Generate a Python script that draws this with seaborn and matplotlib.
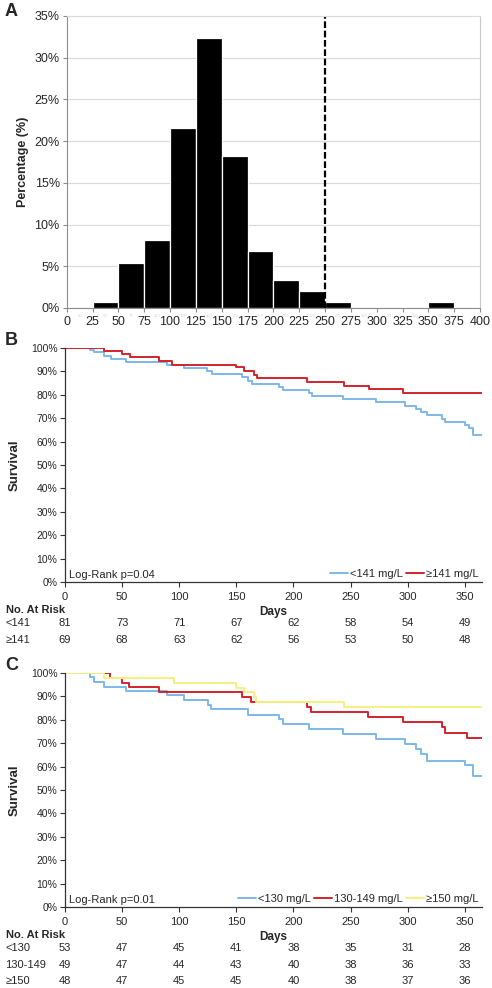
import numpy as np
import pandas as pd
import matplotlib
matplotlib.use("Agg")
import matplotlib.pyplot as plt
from matplotlib.ticker import PercentFormatter
import seaborn as sns

sns.set_style("white")
plt.rcParams['font.family'] = ['Liberation Sans', 'DejaVu Sans']
plt.rcParams['font.size'] = 8

# panel A: distribution (% of patients per 25 mg/L bin)
bin_lower = [25, 50, 75, 100, 125, 150, 175, 200, 225, 250, 350]
bin_pct = [0.7, 5.4, 8.1, 21.6, 32.4, 18.2, 6.8, 3.4, 2.0, 0.7, 0.7]
cutoff = 250

# panel B: two groups
b_lo_t = [0, 22, 25, 34, 40, 53, 89, 104, 124, 129, 155, 160, 164, 187, 191, 214, 216,
          243, 272, 298, 307, 312, 317, 330, 333, 350, 354, 357, 365]
b_lo_s = [100, 99.1, 98.2, 96.7, 95.3, 93.9, 92.7, 91.3, 90.2, 88.8, 87.5, 86.0, 84.7, 83.5,
          82.1, 80.9, 79.5, 78.1, 76.8, 75.4, 73.9, 72.5, 71.2, 69.8, 68.5, 67.1, 65.7, 62.8, 62.8]
b_hi_t = [0, 34, 50, 57, 82, 94, 150, 157, 165, 168, 212, 244, 266, 296, 365]
b_hi_s = [100, 98.9, 97.4, 96.0, 94.6, 92.9, 91.7, 90.2, 88.5, 87.0, 85.3, 83.9, 82.3, 80.9, 80.9]
b_groups = ['<141 mg/L', '≥141 mg/L']
b_risk_rows = ['<141', '≥141']
b_risk = [[81, 73, 71, 67, 62, 58, 54, 49],
          [69, 68, 63, 62, 56, 53, 50, 48]]

# panel C: three groups
c_lo_t = [0, 22, 25, 34, 53, 89, 104, 125, 128, 160, 187, 191, 214, 243, 272, 298, 307,
          312, 317, 350, 357, 365]
c_lo_s = [100, 98.1, 96.3, 94.2, 92.4, 90.6, 88.5, 86.3, 84.5, 82.1, 80.2, 78.1, 75.9, 73.8,
          71.7, 69.5, 67.4, 65.3, 62.6, 60.5, 56.0, 56.0]
c_mid_t = [0, 39, 50, 56, 82, 155, 163, 212, 215, 265, 296, 330, 333, 352, 365]
c_mid_s = [100, 98.0, 95.9, 93.9, 91.7, 89.7, 87.6, 85.6, 83.3, 81.1, 78.9, 76.8, 74.5, 72.4, 72.4]
c_hi_t = [0, 34, 95, 150, 157, 165, 167, 244, 365]
c_hi_s = [100, 97.9, 95.8, 93.75, 91.7, 89.6, 87.5, 85.4, 85.4]
c_groups = ['<130 mg/L', '130-149 mg/L', '≥150 mg/L']
c_risk_rows = ['<130', '130-149', '≥150']
c_risk = [[53, 47, 45, 41, 38, 35, 31, 28],
          [49, 47, 44, 43, 40, 38, 36, 33],
          [48, 47, 45, 45, 40, 38, 37, 36]]

day_ticks = [0, 50, 100, 150, 200, 250, 300, 350]
colors = ['#7db8e8', '#d3222e', '#f6f07e']

W, H = 492, 988
fig = plt.figure(figsize=(W / 100, H / 100), dpi=100)


def ax_at(l, r, t, b):
    return fig.add_axes([l / W, 1 - b / H, (r - l) / W, (b - t) / H])


# ---------- panel A ----------
axA = ax_at(66.7, 480, 16, 308)
hist_df = pd.DataFrame({'mid': [x + 12.5 for x in bin_lower], 'pct': bin_pct})
sns.histplot(data=hist_df, x='mid', weights='pct', binwidth=25, binrange=(0, 400), ax=axA,
             color='black', edgecolor='white', linewidth=0.9, alpha=1)
axA.set_xlim(0, 400)
axA.set_ylim(0, 35)
axA.set_yticks(range(0, 40, 5))
axA.yaxis.set_major_formatter(PercentFormatter(decimals=0))
axA.set_xticks(range(0, 425, 25))
axA.grid(axis='y', color='#dadada', lw=0.8)
axA.set_axisbelow(True)
axA.axvline(cutoff, color='black', ls=(0, (3, 1.2)), lw=1.6)
for s in ['left', 'bottom']:
    axA.spines[s].set_color('#8c8c8c')
axA.spines['right'].set_color('#c8c8c8')
axA.spines['top'].set_color('#dadada')
axA.tick_params(axis='both', labelsize=9, length=3, color='#8c8c8c', pad=2, direction='out',
                left=True, bottom=True)
axA.tick_params(axis='x', pad=3)
axA.set_xlabel('')
axA.set_ylabel('Percentage (%)', fontsize=9, fontweight='bold', labelpad=4)
# faint bin labels
for x in range(0, 375, 25):
    axA.text(x + 12.5, -0.9, str(x + 25), fontsize=3, color='#d4d4d4', ha='center', va='center')


def km_panel(ax, curves, names, rows, risk, logrank, legend_cols):
    for (t, s), name, c in zip(curves, names, colors):
        d = pd.DataFrame({'day': t, 'surv': s})
        sns.lineplot(data=d, x='day', y='surv', ax=ax, drawstyle='steps-post', color=c,
                     lw=1.4, estimator=None, sort=False, label=name)
    ax.set_xlim(0, 365)
    ax.set_ylim(0, 100)
    ax.set_yticks(range(0, 110, 10))
    ax.yaxis.set_major_formatter(PercentFormatter(decimals=0))
    ax.set_xticks(day_ticks)
    for s in ['top', 'right']:
        ax.spines[s].set_visible(False)
    for s in ['left', 'bottom']:
        ax.spines[s].set_color('#333333')
        ax.spines[s].set_linewidth(0.9)
    ax.tick_params(axis='both', length=3.5, color='#333333', pad=2,
                   direction='out', left=True, bottom=True)
    ax.tick_params(axis='y', labelsize=7.5)
    ax.tick_params(axis='x', labelsize=8, pad=4)
    ax.set_xlabel('')
    ax.set_ylabel('Survival', fontsize=9.5, fontweight='bold', labelpad=7)
    ax.text(0.01, 0.01, logrank, transform=ax.transAxes, fontsize=8, va='bottom', ha='left')
    ax.legend(loc='lower right', ncol=legend_cols, frameon=False, fontsize=8,
              handlelength=1.6, handletextpad=0.2, columnspacing=0.3,
              borderaxespad=0.1, borderpad=0.2)
    tr = ax.get_xaxis_transform()
    ax.text(182, -0.128, 'Days', transform=tr, fontsize=8.5, fontweight='bold',
            ha='center', va='center')
    ax.text(-52, -0.118, 'No. At Risk', transform=tr, fontsize=8, fontweight='bold',
            ha='left', va='center')
    for i, (lab, vals) in enumerate(zip(rows, risk)):
        yy = -0.175 - 0.071 * i
        ax.text(-52, yy, lab, transform=tr, fontsize=8, ha='left', va='center')
        for d, v in zip(day_ticks, vals):
            ax.text(d, yy, str(v), transform=tr, fontsize=8, ha='center', va='center')


axB = ax_at(65, 482, 348, 582)
km_panel(axB, [(b_lo_t, b_lo_s), (b_hi_t, b_hi_s)], b_groups, b_risk_rows, b_risk,
         'Log-Rank p=0.04', 2)

axC = ax_at(65, 482, 673, 907)
km_panel(axC, [(c_lo_t, c_lo_s), (c_mid_t, c_mid_s), (c_hi_t, c_hi_s)], c_groups,
         c_risk_rows, c_risk, 'Log-Rank p=0.01', 3)

for lab, y in [('A', 11), ('B', 340), ('C', 666)]:
    fig.text(5 / W, 1 - y / H, lab, fontsize=13, fontweight='bold', ha='left', va='center')

fig.savefig('out.png', dpi=100)
